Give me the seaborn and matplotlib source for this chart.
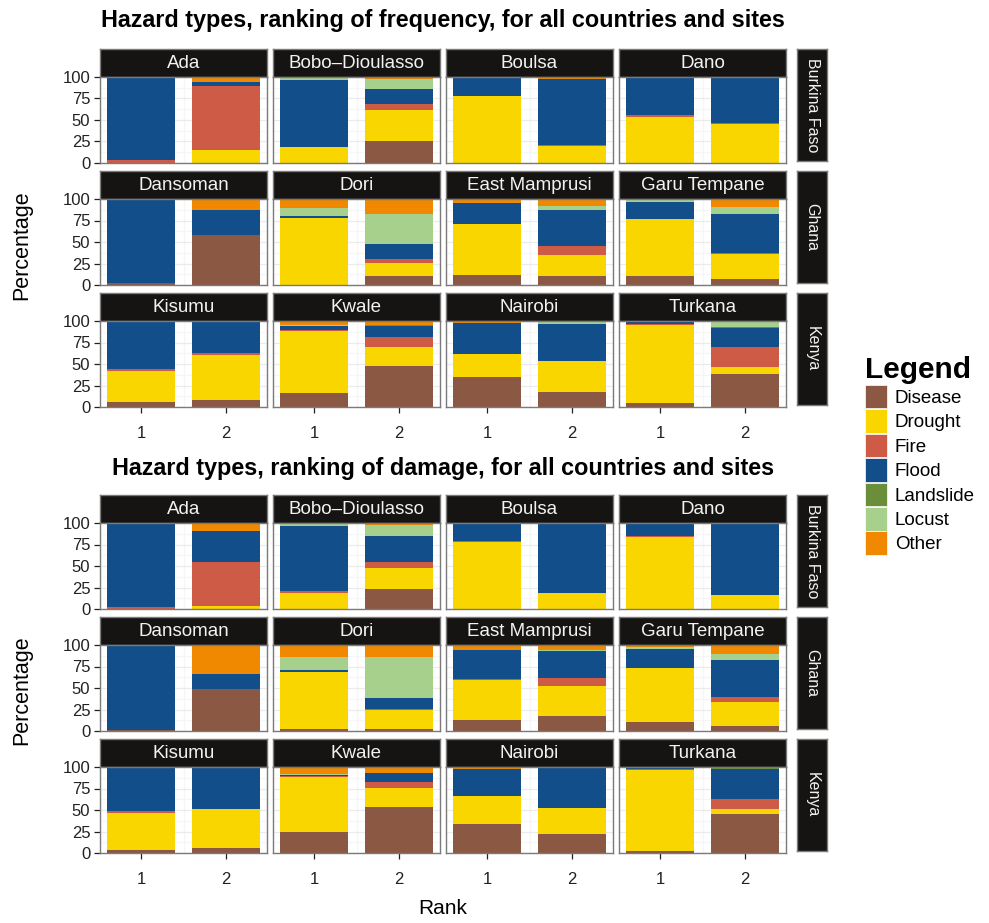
import matplotlib
matplotlib.use("Agg")
import matplotlib.pyplot as plt
from matplotlib.patches import Patch
import pandas as pd
import seaborn as sns

sns.set_theme(style="white")
plt.rcParams["font.family"] = ["Liberation Sans", "DejaVu Sans"]
plt.rcParams["text.color"] = "black"

# ---- data -------------------------------------------------------------
hazards = ["Disease", "Drought", "Fire", "Flood", "Landslide", "Locust", "Other"]
hazard_colors = ["#8B5843", "#FAD600", "#CD5B45", "#114E8A", "#6B8E3A", "#A8D08D", "#F08800"]

sites = ["Ada", "Bobo\u2013Dioulasso", "Boulsa", "Dano",
         "Dansoman", "Dori", "East Mamprusi", "Garu Tempane",
         "Kisumu", "Kwale", "Nairobi", "Turkana"]
countries = ["Burkina Faso", "Ghana", "Kenya"]
ranks = [1, 2]

# percentages per site, columns follow `hazards`
freq_rank1 = [
    [0, 0, 3, 97, 0, 0, 0],
    [0, 19, 0, 78, 0, 3, 0],
    [0, 78, 0, 22, 0, 0, 0],
    [0, 54, 2, 44, 0, 0, 0],
    [2, 0, 0, 98, 0, 0, 0],
    [0, 78, 0, 2, 0, 10, 10],
    [12, 59, 0, 24, 0, 0, 5],
    [10, 67, 0, 20, 0, 2, 1],
    [6, 36, 2, 56, 0, 0, 0],
    [16, 72, 2, 4, 0, 1, 5],
    [35, 27, 0, 36, 0, 0, 2],
    [5, 90, 1, 4, 0, 0, 0],
]
freq_rank2 = [
    [0, 15, 74, 5, 0, 0, 6],
    [26, 36, 7, 17, 0, 12, 2],
    [0, 20, 1, 77, 0, 0, 2],
    [0, 45, 1, 54, 0, 0, 0],
    [58, 0, 0, 29, 0, 0, 13],
    [10, 16, 4, 18, 0, 34, 18],
    [10, 25, 10, 42, 0, 5, 8],
    [7, 29, 1, 46, 0, 8, 9],
    [8, 53, 2, 37, 0, 0, 0],
    [48, 22, 11, 13, 1, 0, 5],
    [18, 36, 0, 43, 0, 3, 0],
    [38, 8, 24, 22, 1, 7, 0],
]
damage_rank1 = [
    [0, 0, 2, 97, 0, 0, 1],
    [0, 19, 2, 76, 0, 3, 0],
    [0, 78, 1, 21, 0, 0, 0],
    [0, 84, 1, 15, 0, 0, 0],
    [1, 0, 0, 99, 0, 0, 0],
    [2, 67, 0, 2, 0, 15, 14],
    [13, 46, 1, 34, 0, 0, 6],
    [11, 62, 0, 22, 0, 3, 2],
    [4, 43, 2, 51, 0, 0, 0],
    [25, 63, 1, 2, 0, 1, 8],
    [34, 32, 0, 32, 0, 0, 2],
    [2, 95, 1, 2, 0, 0, 0],
]
damage_rank2 = [
    [0, 3, 52, 36, 0, 0, 9],
    [23, 25, 7, 30, 0, 13, 2],
    [0, 19, 0, 80, 0, 0, 1],
    [0, 16, 0, 84, 0, 0, 0],
    [49, 0, 0, 17, 0, 0, 34],
    [2, 23, 1, 12, 0, 48, 14],
    [17, 35, 10, 31, 0, 1, 6],
    [6, 28, 5, 44, 0, 6, 11],
    [6, 45, 0, 49, 0, 0, 0],
    [54, 22, 7, 10, 0, 0, 7],
    [22, 30, 0, 47, 1, 0, 0],
    [45, 6, 12, 35, 1, 1, 0],
]

titles = ["Hazard types, ranking of frequency, for all countries and sites",
          "Hazard types, ranking of damage, for all countries and sites"]
y_ticks = [0, 25, 50, 75, 100]


def to_long(rank1, rank2):
    rows = []
    for rank, table in zip(ranks, [rank1, rank2]):
        for site, vals in zip(sites, table):
            for hz, v in zip(hazards, vals):
                rows.append({"site": site, "rank": rank, "hazard": hz, "pct": v})
    return pd.DataFrame(rows)


# ---- layout (pixel units) ----------------------------------------------
W, H = 989, 923
fig = plt.figure(figsize=(W / 100, H / 100), dpi=100)
fig.patch.set_facecolor("white")


def rect(x0, y0, x1, y1):
    return [x0 / W, 1 - y1 / H, (x1 - x0) / W, (y1 - y0) / H]


col_x = [100, 273, 446, 619]
panel_w = 167
strip_h = 28
panel_h = 86
grid_tops = [[49, 171, 293], [495, 617, 739]]
strip_face = "#151412"
border = "#7A7A7A"
palette = dict(zip(hazards, hazard_colors))


def strip_axes(r, text, rotation=0):
    sa = fig.add_axes(rect(*r))
    sa.set_facecolor(strip_face)
    sa.set_xticks([])
    sa.set_yticks([])
    for s in sa.spines.values():
        s.set_color(border)
        s.set_linewidth(1.0)
    sa.text(0.5, 0.5, text, color="#F2F2F2", ha="center", va="center",
            fontsize=13.5 if rotation == 0 else 11.5, rotation=rotation,
            transform=sa.transAxes)
    return sa


for g, (r1, r2) in enumerate([(freq_rank1, freq_rank2), (damage_rank1, damage_rank2)]):
    df = to_long(r1, r2)
    tops = grid_tops[g]
    for i in range(3):
        for j in range(4):
            site = sites[i * 4 + j]
            x0 = col_x[j]
            st = tops[i]
            strip_axes((x0, st, x0 + panel_w, st + strip_h), site)
            ax = fig.add_axes(rect(x0, st + strip_h, x0 + panel_w, st + strip_h + panel_h))
            sub = df[df["site"] == site]
            sns.histplot(data=sub, x="rank", weights="pct", hue="hazard",
                         hue_order=hazards[::-1], palette=palette,
                         multiple="stack", discrete=True, shrink=0.8,
                         linewidth=0, alpha=1, legend=False, ax=ax)
            ax.set_xlim(0.52, 2.48)
            ax.set_ylim(0, 100)
            ax.set_facecolor("white")
            ax.set_axisbelow(True)
            ax.set_yticks(y_ticks)
            ax.set_yticks([12.5, 37.5, 62.5, 87.5], minor=True)
            ax.set_xticks(ranks)
            ax.set_xticks([1.5], minor=True)
            ax.grid(True, which="major", color="#EBEBEB", linewidth=0.9)
            ax.grid(True, which="minor", color="#F6F6F6", linewidth=0.9)
            for s in ax.spines.values():
                s.set_color(border)
                s.set_linewidth(1.0)
            ax.set_xlabel("")
            ax.set_ylabel("")
            ax.tick_params(axis="both", which="minor", length=0)
            ax.tick_params(axis="both", which="major", length=4, width=0.9,
                           color="#222222", labelsize=12, labelcolor="#222222", pad=3)
            ax.tick_params(axis="x", pad=10)
            ax.tick_params(axis="y", left=(j == 0), labelleft=(j == 0))
            ax.tick_params(axis="x", bottom=(i == 2), labelbottom=(i == 2))
            if j == 0:
                ax.set_yticklabels([str(t) for t in y_ticks])
        # country strip on the right
        strip_axes((797, tops[i], 827, tops[i] + strip_h + panel_h - 2),
                   countries[i], rotation=-90)

    # grid title and y-axis title
    fig.text(443 / W, 1 - (21 if g == 0 else 468) / H, titles[g],
             ha="center", va="center", fontsize=16.8, fontweight="bold")
    fig.text(22 / W, 1 - (245 if g == 0 else 690) / H, "Percentage",
             ha="center", va="center", rotation=90, fontsize=15.5)

fig.text(443 / W, 1 - 908 / H, "Rank", ha="center", va="center", fontsize=15)

handles = [Patch(facecolor=c, edgecolor="white", linewidth=0.5) for c in hazard_colors]
leg = fig.legend(handles, hazards, title="Legend", loc="upper left",
                 bbox_to_anchor=(865 / W, 1 - 356 / H), frameon=False,
                 handlelength=1.15, handleheight=1.55, labelspacing=0.05,
                 handletextpad=0.45, borderaxespad=0, borderpad=0,
                 fontsize=13.5,
                 title_fontproperties={"weight": "bold", "size": 21.5})
leg._legend_box.align = "left"

fig.savefig("out.png", dpi=100, facecolor="white")
